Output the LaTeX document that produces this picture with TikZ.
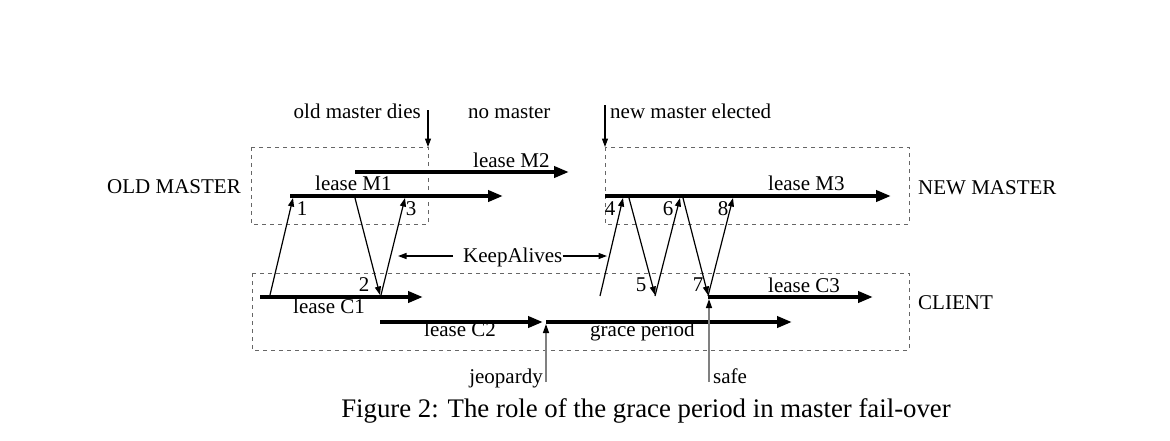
\documentclass[tikz,border=0pt]{standalone}
\usepackage{fontspec}
\setmainfont{Liberation Serif}
\usetikzlibrary{arrows.meta}
\begin{document}
\begin{tikzpicture}[x=1pt,y=-1pt,
  lbl/.style={inner sep=0pt,font=\fontsize{21}{24}\selectfont},
  captxt/.style={inner sep=0pt,font=\fontsize{26.8}{30}\selectfont},
  lease/.style={line width=4pt,-{Triangle[length=15pt,width=11pt]}},
  msg/.style={line width=1.2pt,-{Triangle[length=8.5pt,width=6pt]}},
  grp/.style={gray!80!black,line width=1pt,dash pattern=on 4pt off 4pt},
  probe/.style={gray,line width=1.3pt,-{Triangle[length=9pt,width=6pt,color=black]}}]
\useasboundingbox (0,0) rectangle (1170,440);
% group boxes
\draw[grp] (251,147) rectangle (428,224);
\draw[grp] (605,147) rectangle (909,224);
\draw[grp] (252,273) rectangle (909,350);
% lease lines
\coordinate (m1s) at (290,196); \coordinate (m1e) at (503,196);
\coordinate (m2s) at (355,172); \coordinate (m2e) at (569,172);
\coordinate (m3s) at (605,196); \coordinate (m3e) at (891,196);
\coordinate (c1s) at (260,297); \coordinate (c1e) at (423,297);
\coordinate (c2s) at (380,322); \coordinate (c2e) at (543,322);
\coordinate (gps) at (546,322); \coordinate (gpe) at (792,322);
\coordinate (c3s) at (708,297); \coordinate (c3e) at (873,297);
\draw[lease] (m1s) -- (m1e);
\draw[lease] (m2s) -- (m2e);
\draw[lease] (m3s) -- (m3e);
\draw[lease] (c1s) -- (c1e);
\draw[lease] (c2s) -- (c2e);
\draw[lease] (gps) -- (gpe);
\draw[lease] (c3s) -- (c3e);
% messages
\coordinate (a1) at (270,295); \coordinate (b1) at (293,198);
\coordinate (a2) at (355,198); \coordinate (b2) at (380,295);
\coordinate (a3) at (381,295); \coordinate (b3) at (405,198);
\coordinate (a4) at (600,296); \coordinate (b4) at (623,198);
\coordinate (a5) at (629,198); \coordinate (b5) at (655,295);
\coordinate (a6) at (655,296); \coordinate (b6) at (680,198);
\coordinate (a7) at (683,198); \coordinate (b7) at (708,295);
\coordinate (a8) at (708,296); \coordinate (b8) at (733,198);
\foreach \i in {1,...,8} {\draw[msg] (a\i) -- (b\i);}
% event arrows
\coordinate (oda) at (428,110); \coordinate (odb) at (428,147);
\coordinate (nma) at (605,105); \coordinate (nmb) at (605,147);
\draw[msg] (oda) -- (odb);
\draw[msg] (nma) -- (nmb);
\coordinate (jpa) at (546,382); \coordinate (jpb) at (546,324);
\coordinate (sfa) at (709,382); \coordinate (sfb) at (709,299);
\draw[probe] (jpa) -- (jpb);
\draw[probe] (sfa) -- (sfb);
% labels
\node[lbl,anchor=base east] (lod) at (421,118) {old master dies};
\node[lbl,anchor=base west] (lnm) at (468,118) {no master};
\node[lbl,anchor=base west] (lne) at (610,118) {new master elected};
\node[lbl,anchor=base west] (lm2) at (473,167) {lease M2};
\node[lbl,anchor=base west] (lm1) at (315,190) {lease M1};
\node[lbl,anchor=base west] (lm3) at (768,190) {lease M3};
\node[lbl,anchor=base west] (lold) at (107,193) {OLD MASTER};
\node[lbl,anchor=base west] (lnew) at (918,194) {NEW MASTER};
\node[lbl,anchor=base west] (lcl) at (918,309) {CLIENT};
\node[lbl,anchor=base] (n1) at (302,215) {1};
\node[lbl,anchor=base] (n3) at (411,215) {3};
\node[lbl,anchor=base] (n4) at (610,215) {4};
\node[lbl,anchor=base] (n6) at (668,215) {6};
\node[lbl,anchor=base] (n8) at (723,215) {8};
\node[lbl,anchor=base] (n2) at (364,291) {2};
\node[lbl,anchor=base] (n5) at (641,291) {5};
\node[lbl,anchor=base] (n7) at (698,291) {7};
\node[lbl,anchor=base west] (ka) at (463,262) {KeepAlives};
\coordinate (kaL) at (398,256); \coordinate (kaR) at (607,256);
\draw[msg] ([xshift=-10pt]ka.west |- kaL) -- (kaL);
\draw[msg] (ka.east |- kaR) -- (kaR);
\node[lbl,anchor=base west] (lc1) at (293,313) {lease C1};
\node[lbl,anchor=base west] (lc2) at (424,336) {lease C2};
\node[lbl,anchor=base west] (lgp) at (590,336) {grace period};
\node[lbl,anchor=base west] (lc3) at (768,292) {lease C3};
\node[lbl,anchor=base east] (ljp) at (543,383) {jeopardy};
\node[lbl,anchor=base west] (lsf) at (713,383) {safe};
\node[captxt,anchor=base] (capt) at (646,417) {Figure 2: The role of the grace period in master fail-over};
\end{tikzpicture}
\end{document}
